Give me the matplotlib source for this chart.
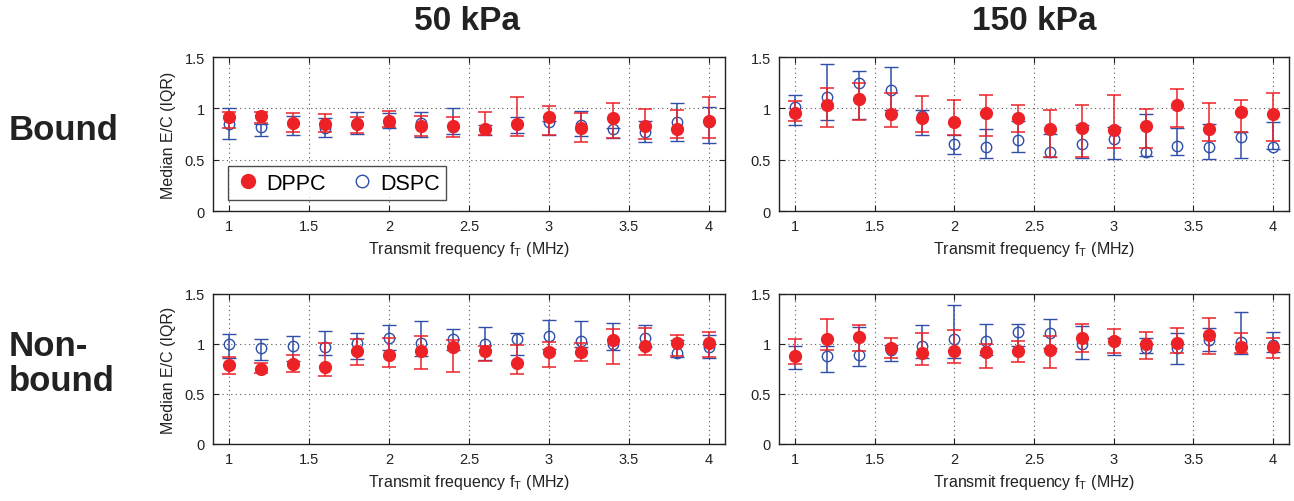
import numpy as np
import matplotlib.pyplot as plt
from matplotlib.lines import Line2D

plt.rcParams['font.family'] = ['Liberation Sans', 'DejaVu Sans']

freq = [1.0, 1.2, 1.4, 1.6, 1.8, 2.0, 2.2, 2.4, 2.6, 2.8, 3.0, 3.2, 3.4, 3.6, 3.8, 4.0]

# Bound, 50 kPa
b50_dppc = [0.92, 0.93, 0.86, 0.85, 0.85, 0.88, 0.83, 0.83, 0.80, 0.85, 0.92, 0.81, 0.91, 0.83, 0.80, 0.88]
b50_dppc_lo = [0.81, 0.86, 0.77, 0.77, 0.76, 0.82, 0.73, 0.72, 0.74, 0.73, 0.74, 0.67, 0.71, 0.70, 0.71, 0.71]
b50_dppc_hi = [0.96, 0.96, 0.95, 0.94, 0.92, 0.97, 0.93, 0.92, 0.96, 1.11, 1.02, 0.95, 1.05, 0.99, 0.98, 1.11]
b50_dspc = [0.85, 0.82, 0.86, 0.81, 0.86, 0.86, 0.86, 0.82, 0.80, 0.85, 0.87, 0.84, 0.80, 0.77, 0.87, 0.87]
b50_dspc_lo = [0.70, 0.73, 0.74, 0.72, 0.75, 0.81, 0.72, 0.75, 0.74, 0.76, 0.74, 0.73, 0.71, 0.67, 0.68, 0.66]
b50_dspc_hi = [1.00, 0.85, 0.93, 0.91, 0.96, 0.95, 0.96, 1.00, 0.84, 0.92, 0.88, 0.97, 0.81, 0.88, 1.05, 1.01]

# Bound, 150 kPa
b150_dppc = [0.95, 1.03, 1.09, 0.94, 0.91, 0.87, 0.95, 0.91, 0.80, 0.81, 0.79, 0.83, 1.03, 0.80, 0.96, 0.94]
b150_dppc_lo = [0.88, 0.82, 0.89, 0.82, 0.77, 0.74, 0.73, 0.77, 0.53, 0.53, 0.61, 0.61, 0.82, 0.68, 0.77, 0.68]
b150_dppc_hi = [1.07, 1.20, 1.25, 1.15, 1.12, 1.08, 1.13, 1.03, 0.98, 1.03, 1.13, 0.99, 1.19, 1.05, 1.08, 1.15]
b150_dspc = [1.01, 1.11, 1.25, 1.18, 0.93, 0.65, 0.62, 0.69, 0.57, 0.65, 0.70, 0.57, 0.63, 0.62, 0.72, 0.62]
b150_dspc_lo = [0.84, 0.89, 0.90, 0.98, 0.74, 0.56, 0.52, 0.57, 0.53, 0.52, 0.51, 0.54, 0.55, 0.51, 0.52, 0.60]
b150_dspc_hi = [1.13, 1.43, 1.36, 1.40, 0.98, 0.74, 0.80, 0.88, 0.75, 0.84, 0.82, 0.94, 0.81, 0.85, 0.77, 0.87]

# Non-bound, 50 kPa
n50_dppc = [0.79, 0.75, 0.80, 0.77, 0.93, 0.89, 0.93, 0.97, 0.93, 0.81, 0.92, 0.92, 1.04, 0.98, 1.01, 1.01]
n50_dppc_lo = [0.70, 0.71, 0.72, 0.68, 0.79, 0.77, 0.75, 0.72, 0.83, 0.70, 0.77, 0.83, 0.80, 0.89, 0.88, 0.87]
n50_dppc_hi = [0.87, 0.81, 0.89, 1.01, 1.05, 1.06, 1.08, 1.04, 0.98, 0.99, 1.02, 1.01, 1.15, 1.16, 1.09, 1.12]
n50_dspc = [1.00, 0.96, 0.98, 0.97, 1.01, 1.06, 1.01, 1.05, 1.00, 1.05, 1.08, 1.03, 1.00, 1.06, 0.91, 0.97]
n50_dspc_lo = [0.86, 0.84, 0.83, 0.89, 0.85, 0.94, 0.88, 0.94, 0.84, 0.89, 0.95, 0.97, 0.94, 0.97, 0.87, 0.86]
n50_dspc_hi = [1.10, 1.05, 1.08, 1.13, 1.11, 1.19, 1.23, 1.15, 1.17, 1.11, 1.24, 1.23, 1.21, 1.19, 1.04, 1.09]

# Non-bound, 150 kPa
n150_dppc = [0.88, 1.05, 1.07, 0.96, 0.91, 0.93, 0.92, 0.93, 0.94, 1.06, 1.03, 1.00, 1.01, 1.09, 0.97, 0.97]
n150_dppc_lo = [0.80, 0.94, 0.93, 0.86, 0.79, 0.81, 0.76, 0.82, 0.76, 0.92, 0.91, 0.85, 0.91, 0.90, 0.91, 0.86]
n150_dppc_hi = [1.05, 1.25, 1.19, 1.06, 1.11, 1.14, 1.00, 1.03, 1.08, 1.20, 1.15, 1.12, 1.16, 1.26, 1.11, 1.06]
n150_dspc = [0.88, 0.88, 0.89, 0.94, 0.98, 1.05, 1.03, 1.12, 1.11, 1.00, 1.03, 0.96, 0.96, 1.04, 1.02, 0.99]
n150_dspc_lo = [0.75, 0.72, 0.78, 0.83, 0.86, 0.86, 0.89, 0.98, 0.96, 0.85, 0.89, 0.91, 0.80, 0.93, 0.90, 0.92]
n150_dspc_hi = [0.98, 0.98, 1.17, 0.99, 1.19, 1.39, 1.20, 1.20, 1.25, 1.18, 1.06, 1.06, 1.11, 1.16, 1.32, 1.12]

RED = '#ec2227'
BLUE = '#2f4fa8'
INK = '#222222'

panels = [
    (b50_dppc, b50_dppc_lo, b50_dppc_hi, b50_dspc, b50_dspc_lo, b50_dspc_hi),
    (b150_dppc, b150_dppc_lo, b150_dppc_hi, b150_dspc, b150_dspc_lo, b150_dspc_hi),
    (n50_dppc, n50_dppc_lo, n50_dppc_hi, n50_dspc, n50_dspc_lo, n50_dspc_hi),
    (n150_dppc, n150_dppc_lo, n150_dppc_hi, n150_dspc, n150_dspc_lo, n150_dspc_hi),
]

W, H = 1294, 502
fig = plt.figure(figsize=(W / 100, H / 100), dpi=100)

# axes boxes in pixels: (left, top, right, bottom)
boxes = [(213, 58, 725, 212), (779, 58, 1289, 212),
         (213, 295, 725, 445), (779, 295, 1289, 445)]

axes = []
for (l, t, r, b), data in zip(boxes, panels):
    ax = fig.add_axes([l / W, 1 - b / H, (r - l) / W, (b - t) / H])
    dppc, dppc_lo, dppc_hi, dspc, dspc_lo, dspc_hi = [np.array(d) for d in data]
    ax.errorbar(freq, dspc, yerr=[dspc - dspc_lo, dspc_hi - dspc],
                fmt='o', color=BLUE, mfc='none', mec=BLUE, ms=7.5, mew=1.0,
                elinewidth=1.1, capsize=5, capthick=1.1, zorder=3)
    ax.errorbar(freq, dppc, yerr=[dppc - dppc_lo, dppc_hi - dppc],
                fmt='o', color=RED, mfc=RED, mec=RED, ms=8.5,
                elinewidth=1.1, capsize=5, capthick=1.1, zorder=4)
    ax.set_xlim(0.9, 4.1)
    ax.set_ylim(0, 1.5)
    ax.set_xticks([1, 1.5, 2, 2.5, 3, 3.5, 4])
    ax.set_xticklabels(['1', '1.5', '2', '2.5', '3', '3.5', '4'])
    ax.set_yticks([0, 0.5, 1, 1.5])
    ax.set_yticklabels(['0', '0.5', '1', '1.5'])
    ax.grid(True, linestyle=(0, (1, 3)), color='0.35', linewidth=0.8)
    ax.tick_params(direction='in', top=True, right=True, labelsize=10.5,
                   length=4, width=0.8, colors=INK, pad=6)
    for s in ax.spines.values():
        s.set_linewidth(1.0)
        s.set_color(INK)
    ax.set_xlabel('Transmit frequency f$_\\mathregular{T}$ (MHz)', fontsize=11.5,
                  color=INK, labelpad=4)
    axes.append(ax)

for i in (0, 2):
    axes[i].set_ylabel('Median E/C (IQR)', fontsize=11.5, color=INK, labelpad=6)

# legend shows markers only
h_dppc = Line2D([], [], ls='none', marker='o', ms=10, color=RED)
h_dspc = Line2D([], [], ls='none', marker='o', ms=9, mfc='none', mec=BLUE, mew=1.0)
leg = axes[0].legend([h_dppc, h_dspc], ['DPPC', 'DSPC'], loc='lower left',
                     bbox_to_anchor=(0.029, 0.07), ncol=2, fontsize=15.5, frameon=True,
                     fancybox=False, edgecolor=INK, handletextpad=0.2,
                     columnspacing=1.0, borderpad=0.3, handlelength=1.3,
                     borderaxespad=0)
leg.get_frame().set_linewidth(1.0)

fig.text(467 / W, 1 - 22 / H, '50 kPa', fontsize=24, fontweight='bold',
         ha='center', va='center', color=INK)
fig.text(1034 / W, 1 - 22 / H, '150 kPa', fontsize=24, fontweight='bold',
         ha='center', va='center', color=INK)
fig.text(9 / W, 1 - 131 / H, 'Bound', fontsize=25, fontweight='bold',
         ha='left', va='center', color=INK)
fig.text(9 / W, 1 - 364 / H, 'Non-\nbound', fontsize=25, fontweight='bold',
         ha='left', va='center', color=INK, linespacing=1.1)

fig.savefig('out.png', dpi=100)
